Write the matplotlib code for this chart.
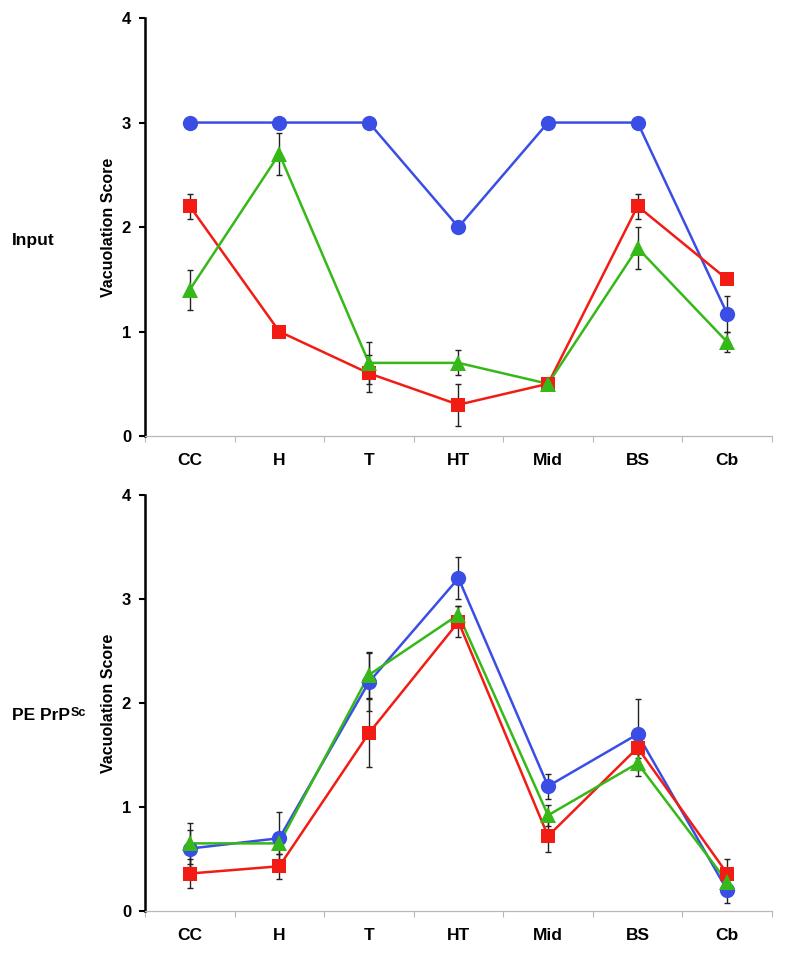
import matplotlib
matplotlib.use("Agg")
import matplotlib.pyplot as plt
import numpy as np

regions = ["CC", "H", "T", "HT", "Mid", "BS", "Cb"]
y_ticks = [0, 1, 2, 3, 4]

# Input panel
input_blue = [3.0, 3.0, 3.0, 2.0, 3.0, 3.0, 1.17]
input_blue_err = [0, 0, 0, 0, 0, 0, 0.17]
input_red = [2.2, 1.0, 0.6, 0.3, 0.5, 2.2, 1.5]
input_red_err = [0.12, 0, 0.18, 0.2, 0, 0.12, 0]
input_green = [1.4, 2.7, 0.7, 0.7, 0.5, 1.8, 0.9]
input_green_err = [0.19, 0.2, 0.2, 0.12, 0, 0.2, 0.1]

# PE PrPSc panel
pe_blue = [0.6, 0.7, 2.2, 3.2, 1.2, 1.7, 0.2]
pe_blue_err = [0.18, 0.25, 0.28, 0.2, 0.12, 0.34, 0.12]
pe_red = [0.36, 0.43, 1.71, 2.78, 0.72, 1.57, 0.36]
pe_red_err = [0.14, 0.12, 0.33, 0.15, 0.15, 0.1, 0.14]
pe_green = [0.65, 0.65, 2.27, 2.85, 0.92, 1.42, 0.28]
pe_green_err = [0.2, 0.1, 0.22, 0.08, 0.1, 0.12, 0.1]

BLUE = "#3a4ee6"
RED = "#f21c14"
GREEN = "#36b818"

FONT = "Liberation Sans"

fig = plt.figure(figsize=(7.87, 9.56), dpi=100)
ax1 = fig.add_axes([0.1842, 0.5439, 0.7967, 0.4372])
ax2 = fig.add_axes([0.1842, 0.0471, 0.7967, 0.4351])

def draw(ax, series):
    x = np.arange(len(regions))
    for vals, errs, color, marker, ms in series:
        ax.errorbar(x, vals, yerr=errs, fmt="none", ecolor="#222222",
                    elinewidth=1.0, capsize=2.5, capthick=1.0, zorder=2)
        ax.plot(x, vals, color=color, lw=1.8, zorder=1)
        ax.plot(x, vals, linestyle="none", marker=marker, ms=ms,
                color=color, markeredgewidth=0, zorder=3)
    ax.set_xlim(-0.5, len(regions) - 0.5)
    ax.set_ylim(0, 4)
    ax.set_yticks(y_ticks)
    ax.set_yticklabels([str(t) for t in y_ticks], fontfamily=FONT,
                       fontweight="bold", fontsize=12)
    ax.set_xticks(x)
    ax.set_xticklabels(regions, fontfamily=FONT, fontweight="bold", fontsize=12.5)
    ax.set_xticks(np.arange(-0.5, len(regions)), minor=True)
    ax.tick_params(axis="x", which="major", length=0, pad=12)
    ax.tick_params(axis="x", which="minor", length=4, color="#b8b8b8",
                   width=0.8, direction="out")
    ax.tick_params(axis="y", length=4, width=1.5, color="black",
                   direction="out", pad=6)
    for s in ["top", "right"]:
        ax.spines[s].set_visible(False)
    ax.spines["left"].set_linewidth(1.8)
    ax.spines["left"].set_color("black")
    ax.spines["bottom"].set_color("#b8b8b8")
    ax.spines["bottom"].set_linewidth(0.9)
    ax.set_ylabel("Vacuolation Score", fontfamily=FONT, fontweight="bold",
                  fontsize=11.5, labelpad=4)

draw(ax1, [
    (input_blue, input_blue_err, BLUE, "o", 11),
    (input_red, input_red_err, RED, "s", 10.5),
    (input_green, input_green_err, GREEN, "^", 11.5),
])
draw(ax2, [
    (pe_blue, pe_blue_err, BLUE, "o", 11),
    (pe_red, pe_red_err, RED, "s", 10.5),
    (pe_green, pe_green_err, GREEN, "^", 11.5),
])

fig.text(0.015, 1 - 240 / 956, "Input", fontfamily=FONT, fontweight="bold",
         fontsize=12.5, va="center", ha="left")
t = fig.text(0.015, 1 - 715 / 956, "PE PrP", fontfamily=FONT,
             fontweight="bold", fontsize=12.5, va="center", ha="left")
fig.canvas.draw()
bb = t.get_window_extent()
W, H = fig.bbox.width, fig.bbox.height
fig.text((bb.x1 + 0.5) / W, (bb.y0 + 0.42 * bb.height) / H, "Sc",
         fontfamily=FONT, fontweight="bold", fontsize=9,
         va="baseline", ha="left")

fig.savefig("out.png", dpi=100)
